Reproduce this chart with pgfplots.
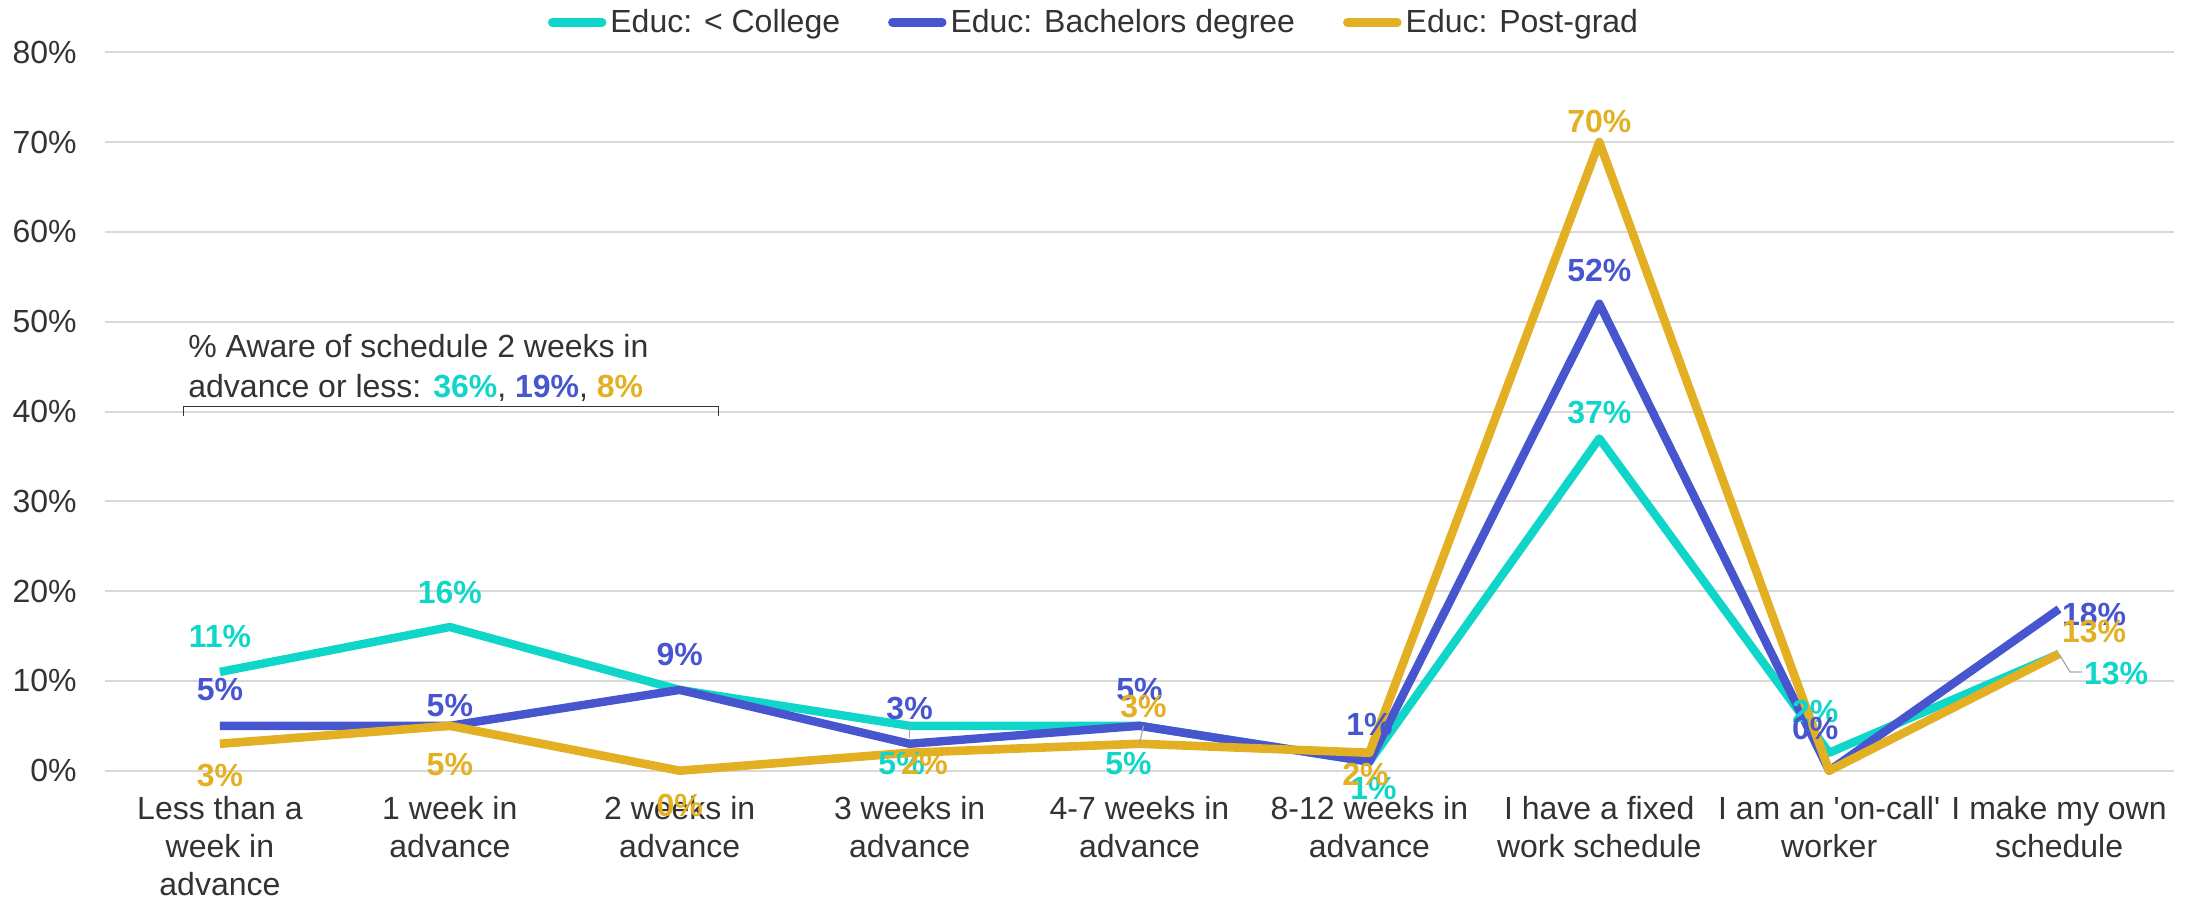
\documentclass[border=0pt]{standalone}
\usepackage{fontspec}
\setmainfont{Liberation Sans}
\usepackage{pgfplots}
\pgfplotsset{compat=1.18}
\definecolor{cT}{HTML}{10D6CA}
\definecolor{cB}{HTML}{4755CE}
\definecolor{cG}{HTML}{E2B022}
\definecolor{grd}{HTML}{D9D9D9}
\definecolor{txt}{HTML}{333333}
\definecolor{lead}{HTML}{A6A6A6}
\tikzset{lbl/.style={font=\fontsize{16}{19}\selectfont\bfseries, inner sep=0pt}}
\begin{document}
\begin{tikzpicture}
\useasboundingbox (-52.5pt,-62.65pt) rectangle (1042pt,385.35pt);
\begin{axis}[
  at={(0,0)}, anchor=south west, scale only axis,
  width=1034.5pt, height=359.2pt,
  xmin=-0.5, xmax=8.5, ymin=0, ymax=80,
  xtick={0,...,8},
  xticklabels={{Less than a\\week in\\advance},{1 week in\\advance},{2 weeks in\\advance},{3 weeks in\\advance},{4-7 weeks in\\advance},{8-12 weeks in\\advance},{I have a fixed\\work schedule},{I am an \textquotesingle on-call\textquotesingle\\worker},{I make my own\\schedule}},
  ytick={0,10,...,80},
  yticklabel={\pgfmathprintnumber{\tick}\%},
  /pgf/number format/assume math mode=true,
  axis line style={draw=none},
  major tick length=0pt,
  ymajorgrids, grid style={grd, line width=1pt},
  tick label style={font=\fontsize{16}{18.85}\selectfont, color=txt},
  xticklabel style={align=center, anchor=north, inner sep=0pt, yshift=-12.8pt},
  yticklabel style={anchor=east, inner sep=0pt, xshift=-14pt},
  clip=false,
  legend columns=3,
  legend style={at={(0.4785,1)}, anchor=center, yshift=15pt, draw=none, fill=none,
    font=\fontsize{16}{19}\selectfont, text=txt, inner sep=0pt,
    /tikz/every even column/.append style={column sep=22pt}},
  legend image code/.code={\draw[#1, line cap=round] (0pt,0pt) -- (25pt,0pt);},
]
\addplot[cT, line width=4.2pt, line join=round] coordinates {(0,11) (1,16) (2,9) (3,5) (4,5) (5,1) (6,37) (7,2) (8,13)};
\addlegendentry{Educ: < College}
\addplot[cB, line width=4.2pt, line join=round] coordinates {(0,5) (1,5) (2,9) (3,3) (4,5) (5,1) (6,52) (7,0) (8,18)};
\addlegendentry{Educ: Bachelors degree}
\addplot[cG, line width=4.3pt, line join=round] coordinates {(0,3) (1,5) (2,0) (3,2) (4,3) (5,2) (6,70) (7,0) (8,13)};
\addlegendentry{Educ: Post-grad}

% leader lines
\draw[lead, line width=0.6pt] (axis cs:3,5) -- ++(0pt,-6pt);
\draw[lead, line width=0.6pt] (axis cs:4,3) -- ++(2pt,9pt);
\draw[lead, line width=0.6pt] (axis cs:8,13) -- ++(5.5pt,-9pt) -- ++(6pt,0pt);

% < College labels
\node[lbl,cT,yshift=17.5pt] at (axis cs:0,11) {11\%};
\node[lbl,cT,yshift=17.5pt] at (axis cs:1,16) {16\%};
\node[lbl,cT,xshift=-4pt,yshift=-19pt] at (axis cs:3,5) {5\%};
\node[lbl,cT,xshift=-5.5pt,yshift=-19pt] at (axis cs:4,5) {5\%};
\node[lbl,cT,xshift=2pt,yshift=-13.5pt] at (axis cs:5,1) {1\%};
\node[lbl,cT,yshift=13pt] at (axis cs:6,37) {37\%};
\node[lbl,cT,xshift=-7pt,yshift=20.5pt] at (axis cs:7,2) {2\%};
\node[lbl,cT,xshift=28.5pt,yshift=-10pt] at (axis cs:8,13) {13\%};
% Bachelors labels
\node[lbl,cB,yshift=18pt] at (axis cs:0,5) {5\%};
\node[lbl,cB,yshift=10pt] at (axis cs:1,5) {5\%};
\node[lbl,cB,yshift=17.5pt] at (axis cs:2,9) {9\%};
\node[lbl,cB,yshift=17.5pt] at (axis cs:3,3) {3\%};
\node[lbl,cB,yshift=18pt] at (axis cs:4,5) {5\%};
\node[lbl,cB,yshift=18.5pt] at (axis cs:5,1) {1\%};
\node[lbl,cB,yshift=16.5pt] at (axis cs:6,52) {52\%};
\node[lbl,cB,xshift=-7pt,yshift=21pt] at (axis cs:7,0) {0\%};
\node[lbl,cB,xshift=17.5pt,yshift=-2.5pt] at (axis cs:8,18) {18\%};
% Post-grad labels
\node[lbl,cG,yshift=-16pt] at (axis cs:0,3) {3\%};
\node[lbl,cG,yshift=-19.5pt] at (axis cs:1,5) {5\%};
\node[lbl,cG,yshift=-17.5pt] at (axis cs:2,0) {0\%};
\node[lbl,cG,xshift=7.5pt,yshift=-5.5pt] at (axis cs:3,2) {2\%};
\node[lbl,cG,xshift=2pt,yshift=18.5pt] at (axis cs:4,3) {3\%};
\node[lbl,cG,xshift=-2pt,yshift=-11pt] at (axis cs:5,2) {2\%};
\node[lbl,cG,yshift=10.5pt] at (axis cs:6,70) {70\%};
\node[lbl,cG,xshift=17.5pt,yshift=11pt] at (axis cs:8,13) {13\%};

% annotation
\node[anchor=base west, inner sep=0pt, font=\fontsize{16}{19}\selectfont, text=txt] at (axis cs:-0.139,46.07) {\% Aware of schedule 2 weeks in};
\node[anchor=base west, inner sep=0pt, font=\fontsize{16}{19}\selectfont, text=txt] at (axis cs:-0.139,41.6) {advance or less: \textbf{\textcolor{cT}{36\%}}, \textbf{\textcolor{cB}{19\%}}, \textbf{\textcolor{cG}{8\%}}};
\draw[black!80, line width=0.6pt] (axis cs:-0.16,39.5) -- (axis cs:-0.16,40.6) -- (axis cs:2.17,40.6) -- (axis cs:2.17,39.5);
\end{axis}
\end{tikzpicture}
\end{document}
